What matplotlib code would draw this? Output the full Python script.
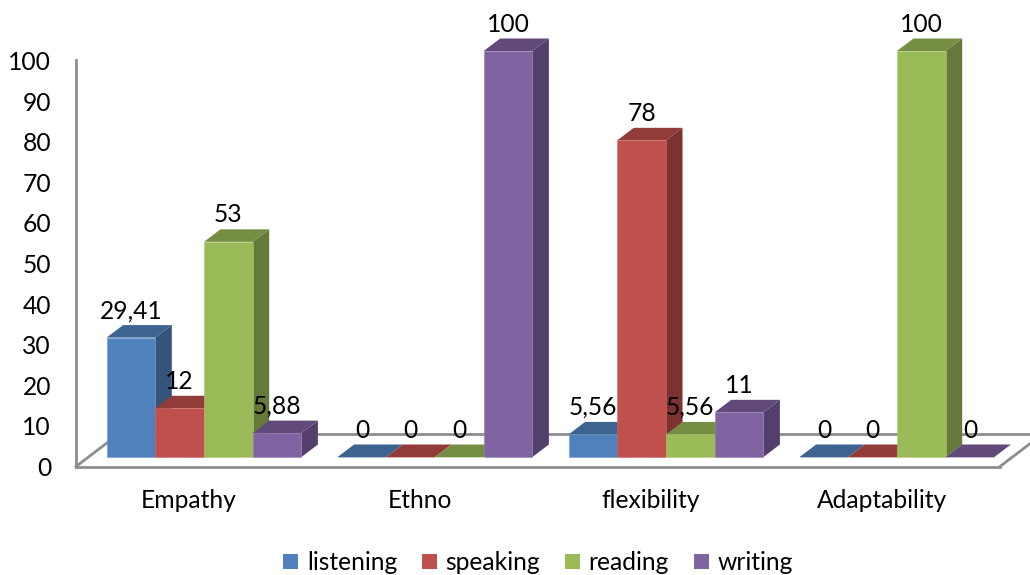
import matplotlib
matplotlib.use("Agg")
import matplotlib.pyplot as plt
import numpy as np
from matplotlib.patches import Patch, Polygon

plt.rcParams['font.family'] = ['Lato', 'DejaVu Sans']

categories = ['Empathy', 'Ethno', 'flexibility', 'Adaptability']
series_names = ['listening', 'speaking', 'reading', 'writing']
listening = [29.41, 0, 5.56, 0]
speaking = [12, 0, 78, 0]
reading = [53, 0, 5.56, 100]
writing = [5.88, 100, 11, 0]
y_ticks = list(range(0, 101, 10))

front_colors = ['#4f81bd', '#c0504d', '#9bbb59', '#8064a2']
top_colors = ['#3d6390', '#923c3a', '#768e44', '#61497c']
side_colors = ['#34547c', '#7c3230', '#65793a', '#533f6b']
edge_colors = ['#6f97c9', '#cc6f6c', '#aec873', '#9480b4']

W, H = 1030, 575
PX_X = 231.0    # pixels per category
PX_Y = 4.06     # pixels per value unit
FONT = 17.7

fig = plt.figure(figsize=(W / 100, H / 100), dpi=100)
left, right, bottom, top = 76, 1000, 466.5, 60.5
ax = fig.add_axes([left / W, 1 - bottom / H, (right - left) / W, (bottom - top) / H])
ax.set_xlim((left - 189) / PX_X, (right - 189) / PX_X)
ax.set_ylim(0, 100)

# the bars stand a little inside the floor, so shift them off the front edge
bar_w = 48.7 / PX_X
shift_x = 15 / PX_X
base = (bottom - 457) / PX_Y
depth_x = 16.5 / PX_X
depth_y = 12.5 / PX_Y

# floor outline
axis_color = '#8e8e8e'
floor_x = 42 / PX_X
floor_y = 32 / PX_Y
x0, x1 = ax.get_xlim()
ax.plot([x0, x0 + floor_x, x1 + floor_x], [0, floor_y, floor_y], color=axis_color,
        lw=2, clip_on=False, zorder=1)
ax.plot([x1, x1 + floor_x], [0, floor_y], color=axis_color, lw=2, clip_on=False, zorder=1)

x = np.arange(len(categories))
all_series = [listening, speaking, reading, writing]
z = 3
for cat in x:
    for i, values in enumerate(all_series):
        v = values[cat]
        l = cat + shift_x + (i - 2) * bar_w
        r = l + bar_w
        t = base + v
        # top and side faces first, front face over them
        ax.add_patch(Polygon([(l, t), (r, t), (r + depth_x, t + depth_y), (l + depth_x, t + depth_y)],
                             facecolor=top_colors[i], edgecolor='none', clip_on=False, zorder=z))
        ax.add_patch(Polygon([(r, base), (r, t), (r + depth_x, t + depth_y), (r + depth_x, base + depth_y)],
                             facecolor=side_colors[i], edgecolor='none', clip_on=False, zorder=z))
        ax.bar(l, v, bar_w, bottom=base, align='edge', color=front_colors[i],
               edgecolor=edge_colors[i], linewidth=0.4, clip_on=False, zorder=z + 1)
        ax.text((l + r) / 2, t + depth_y + 14.5 / PX_Y, f'{v:g}'.replace('.', ','),
                ha='center', va='center', fontsize=FONT, color='black', zorder=100, clip_on=False)
        z += 2

for side in ['top', 'right']:
    ax.spines[side].set_visible(False)
for side in ['left', 'bottom']:
    ax.spines[side].set_color(axis_color)
    ax.spines[side].set_linewidth(2)

ax.set_yticks(y_ticks)
ax.set_xticks(x)
ax.set_xticklabels(categories)
ax.tick_params(axis='both', length=0, labelsize=FONT, labelcolor='black')
ax.tick_params(axis='y', pad=18)
ax.tick_params(axis='x', pad=16.5)

handles = [Patch(facecolor=c, edgecolor='none', label=n) for c, n in zip(front_colors, series_names)]
fig.legend(handles=handles, loc='center', bbox_to_anchor=(538 / W, 1 - 562.5 / H), ncol=4, frameon=False,
           fontsize=FONT, handlelength=0.6, handleheight=0.6, handletextpad=0.36, columnspacing=1.01,
           borderpad=0, labelcolor='black')

fig.savefig('out.png', dpi=100)
